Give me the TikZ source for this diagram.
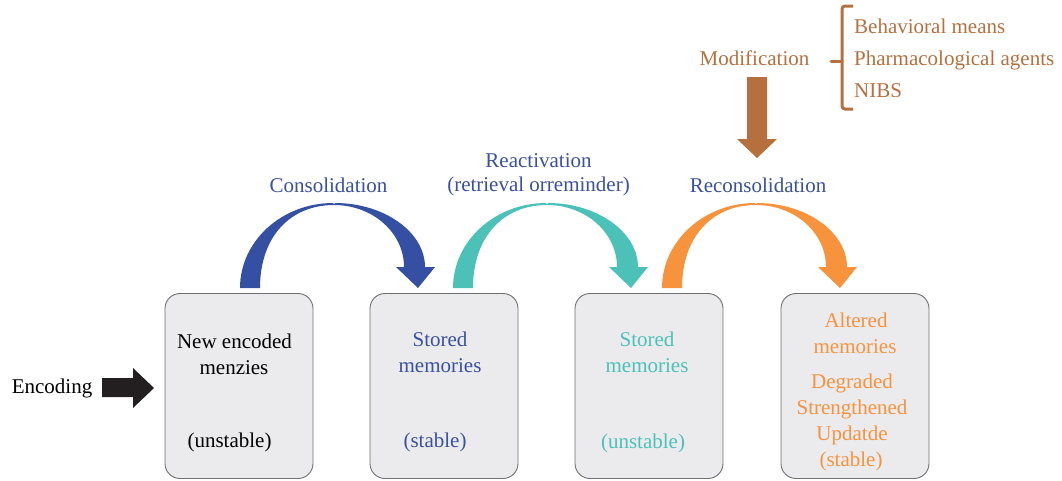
\documentclass[tikz,border=0pt]{standalone}
\usepackage{fontspec}
\setmainfont{Liberation Serif}
\definecolor{cblue}{HTML}{3550A2}
\definecolor{tblue}{HTML}{3A50A0}
\definecolor{cteal}{HTML}{4BC1B8}
\definecolor{corange}{HTML}{F7923D}
\definecolor{cbrown}{HTML}{B5703D}
\definecolor{boxfill}{HTML}{EBEBEE}
\definecolor{boxline}{HTML}{707070}
\definecolor{cblack}{HTML}{231F20}
\tikzset{
  pics/arcarrow/.style={code={
    \fill[#1] (-94,85) .. controls (-94,38) and (-52,0) .. (-1,0) -- (0,1.5) -- (1,0)
      .. controls (50,0) and (91,29) .. (91,64) -- (101,64) -- (84,85) -- (62,64) -- (70,64)
      .. controls (70,30) and (39,2) .. (0,2)
      .. controls (-44,2) and (-74,34) .. (-74,85) -- cycle;
  }},
  lbl/.style={inner sep=0pt, anchor=base, font=\fontsize{21}{25}\selectfont},
  box/.style={draw=boxline, fill=boxfill, line width=0.9pt, rounded corners=15pt,
    minimum width=148pt, minimum height=185pt, inner sep=0pt},
}
\begin{document}
\begin{tikzpicture}[x=1pt,y=-1pt]
\useasboundingbox (0,0) rectangle (1062,480);
% boxes
\node[box] (b1) at (239,386) {};
\node[box] (b2) at (444,386) {};
\node[box] (b3) at (649,386) {};
\node[box] (b4) at (855,386) {};
% arcs
\pic at (334,203) {arcarrow=cblue};
\pic at (547,203) {arcarrow=cteal};
\pic at (756,203) {arcarrow=corange};
% encoding arrow
\node[lbl] (enc) at (52,393) {Encoding};
\fill[cblack] (102,378) -- (133,378) -- (133,368) -- (154,388) -- (133,408) -- (133,397) -- (102,397) -- cycle;
% box 1 text
\node[lbl] (t1a) at (234.5,348) {New encoded};
\node[lbl] (t1b) at (234,374) {menzies};
\node[lbl] (t1c) at (229.5,447) {(unstable)};
% box 2 text
\node[lbl, text=tblue] (t2a) at (440,346) {Stored};
\node[lbl, text=tblue] (t2b) at (440,372) {memories};
\node[lbl, text=tblue] (t2c) at (435,447) {(stable)};
% box 3 text
\node[lbl, text=cteal] (t3a) at (647,346) {Stored};
\node[lbl, text=cteal] (t3b) at (647,372) {memories};
\node[lbl, text=cteal] (t3c) at (643,448) {(unstable)};
% box 4 text
\node[lbl, text=corange] (t4a) at (856,327) {Altered};
\node[lbl, text=corange] (t4b) at (855,353) {memories};
\node[lbl, text=corange] (t4c) at (852,388) {Degraded};
\node[lbl, text=corange] (t4d) at (852,414) {Strengthened};
\node[lbl, text=corange] (t4e) at (852,440) {Updatde};
\node[lbl, text=corange] (t4f) at (851,466) {(stable)};
% arc labels
\node[lbl, text=tblue] (l1) at (328.5,192) {Consolidation};
\node[lbl, text=tblue] (l2a) at (538.5,167) {Reactivation};
\node[lbl, text=tblue] (l2b) at (538.5,191) {(retrieval orreminder)};
\node[lbl, text=tblue] (l3) at (758,192) {Reconsolidation};
% modification
\node[lbl, text=cbrown] (mod) at (754.5,65) {Modification};
\fill[cbrown] (747,77) -- (767,77) -- (767,139) -- (777,139) -- (757,158) -- (737,139) -- (747,139) -- cycle;
\draw[cbrown, line width=3pt, rounded corners=3pt] (853,6) -- (842,6) -- (842,109) -- (853,109);
\draw[cbrown, line width=3pt, line cap=round] (842,61) -- (831,61);
\node[lbl, anchor=base west, text=cbrown] (m1) at (854,33) {Behavioral means};
\node[lbl, anchor=base west, text=cbrown] (m2) at (854,65) {Pharmacological agents};
\node[lbl, anchor=base west, text=cbrown] (m3) at (854,97) {NIBS};
\end{tikzpicture}
\end{document}
